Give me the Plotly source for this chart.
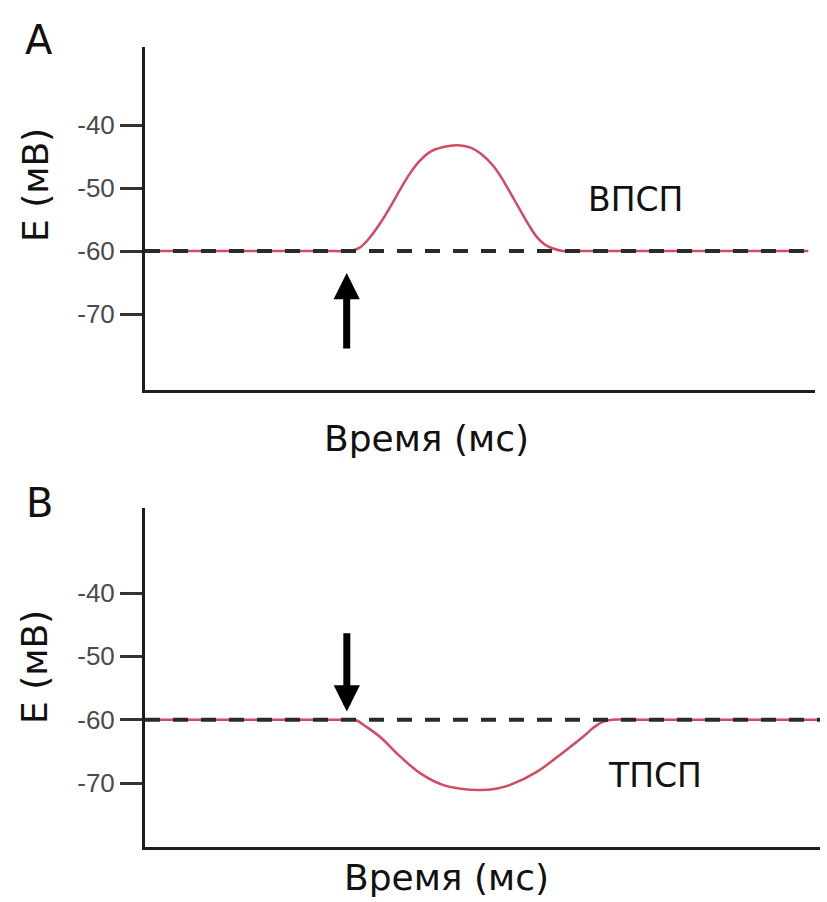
import plotly.graph_objects as go

# ---- data ----
time_a = [0, 28, 30.6, 32.0, 33.6, 35.1, 36.6, 38.1, 39.6, 41.0, 42.5, 44.5, 46.7, 48.6, 50.4,
          52.0, 53.4, 54.7, 56.0, 57.3, 58.5, 59.7, 60.9, 62.4, 65, 99.0]
epsp = [-60, -60, -60, -59.5, -57.8, -55.6, -53.0, -50.2, -47.6, -45.7, -44.3, -43.5, -43.2, -43.6, -44.8,
        -46.5, -48.7, -51.1, -53.5, -55.9, -57.8, -59.0, -59.6, -60, -60, -60]

time_b = [0, 29, 31.1, 32.9, 34.8, 37.8, 40.7, 44.1, 46.8, 49.6, 52.0, 54.1, 58.1, 61.9, 64.9,
          66.5, 67.9, 69.2, 72, 99.7]
ipsp = [-60, -60, -60, -61.2, -62.7, -65.8, -68.4, -70.3, -70.9, -71.1, -70.9, -70.3, -68.2, -65.2, -62.7,
        -61.2, -60.3, -60, -60, -60]

rest_time_a = [0, 99.0]
rest_time_b = [0, 100]
rest_v = [-60, -60]

stim_time = [30.1, 29.9]        # arrow positions (A, B)
arrow_tip = [-63.5, -58.7]
arrow_tail = [-75.7, -46.1]

yticks = [-40, -50, -60, -70]
ytick_text = ["-40", "-50", "-60", "-70"]

panel_labels = ["A", "B"]
curve_labels = ["ВПСП", "ТПСП"]
x_title = "Время (мс)"
y_title = "E (мВ)"

RED = "#d44a62"
AX = "#1e1e1e"
W, H = 827, 902

fig = go.Figure()

# Panel A
fig.add_trace(go.Scatter(x=time_a, y=epsp, mode="lines",
                         line=dict(color=RED, width=2.5, shape="spline", smoothing=1.0),
                         xaxis="x", yaxis="y", showlegend=False, hoverinfo="skip"))
fig.add_trace(go.Scatter(x=rest_time_a, y=rest_v, mode="lines",
                         line=dict(color="#2a2a2a", width=4, dash="15px,13px"),
                         xaxis="x", yaxis="y", showlegend=False, hoverinfo="skip"))
# Panel B
fig.add_trace(go.Scatter(x=time_b, y=ipsp, mode="lines",
                         line=dict(color=RED, width=2.5, shape="spline", smoothing=1.0),
                         xaxis="x2", yaxis="y2", showlegend=False, hoverinfo="skip"))
fig.add_trace(go.Scatter(x=rest_time_b, y=rest_v, mode="lines",
                         line=dict(color="#2a2a2a", width=4, dash="15px,13px"),
                         xaxis="x2", yaxis="y2", showlegend=False, hoverinfo="skip"))

def px_x(p):
    return p / W

def px_y(p):
    return 1 - p / H

yaxis_common = dict(
    showline=True, linecolor=AX, linewidth=3,
    ticks="outside", ticklen=22, tickwidth=3, tickcolor="#333",
    tickvals=yticks, ticktext=ytick_text,
    tickfont=dict(family="Liberation Sans, Arial", size=26, color="#4a4a4a"),
    showgrid=False, zeroline=False, fixedrange=True,
)
xaxis_common = dict(
    showline=True, linecolor=AX, linewidth=3,
    showticklabels=False, ticks="", showgrid=False, zeroline=False,
    range=[0, 100], fixedrange=True,
)

fig.update_layout(
    width=W, height=H,
    margin=dict(l=0, r=0, t=0, b=0),
    paper_bgcolor="white", plot_bgcolor="white",
    xaxis=dict(domain=[px_x(145), px_x(815)], anchor="y", **xaxis_common),
    yaxis=dict(domain=[px_y(390), px_y(47)], anchor="x", range=[-82.06, -27.62], **yaxis_common),
    xaxis2=dict(domain=[px_x(145), px_x(820)], anchor="y2", **xaxis_common),
    yaxis2=dict(domain=[px_y(847), px_y(508)], anchor="x2", range=[-80.1, -26.57], **yaxis_common),
)

ann = []
# stimulus arrows
for i, (xr, yr) in enumerate([("x", "y"), ("x2", "y2")]):
    ann.append(dict(x=stim_time[i], y=arrow_tip[i], ax=stim_time[i], ay=arrow_tail[i],
                    xref=xr, yref=yr, axref=xr, ayref=yr, text="",
                    showarrow=True, arrowhead=2, arrowwidth=7, arrowsize=0.75,
                    arrowcolor="black", standoff=0, startstandoff=0))

txtfont = dict(family="DejaVu Sans, Verdana", color="#111")
# curve labels
ann.append(dict(x=px_x(635), y=px_y(200), xref="paper", yref="paper", text=curve_labels[0],
                showarrow=False, font=dict(size=33, **txtfont), xanchor="center", yanchor="middle"))
ann.append(dict(x=px_x(655), y=px_y(775), xref="paper", yref="paper", text=curve_labels[1],
                showarrow=False, font=dict(size=33, **txtfont), xanchor="center", yanchor="middle"))
# x titles
ann.append(dict(x=px_x(426), y=px_y(438), xref="paper", yref="paper", text=x_title,
                showarrow=False, font=dict(size=36, **txtfont), xanchor="center", yanchor="middle"))
ann.append(dict(x=px_x(447), y=px_y(877), xref="paper", yref="paper", text=x_title,
                showarrow=False, font=dict(size=36, **txtfont), xanchor="center", yanchor="middle"))
# y titles
ann.append(dict(x=px_x(36), y=px_y(185), xref="paper", yref="paper", text=y_title, textangle=-90,
                showarrow=False, font=dict(size=36, **txtfont), xanchor="center", yanchor="middle"))
ann.append(dict(x=px_x(34), y=px_y(667), xref="paper", yref="paper", text=y_title, textangle=-90,
                showarrow=False, font=dict(size=36, **txtfont), xanchor="center", yanchor="middle"))
# panel letters
ann.append(dict(x=px_x(39), y=px_y(40), xref="paper", yref="paper", text=panel_labels[0],
                showarrow=False, font=dict(size=40, **txtfont), xanchor="center", yanchor="middle"))
ann.append(dict(x=px_x(39), y=px_y(503), xref="paper", yref="paper", text=panel_labels[1],
                showarrow=False, font=dict(size=40, **txtfont), xanchor="center", yanchor="middle"))

fig.update_layout(annotations=ann)
fig.write_html("out.html")
